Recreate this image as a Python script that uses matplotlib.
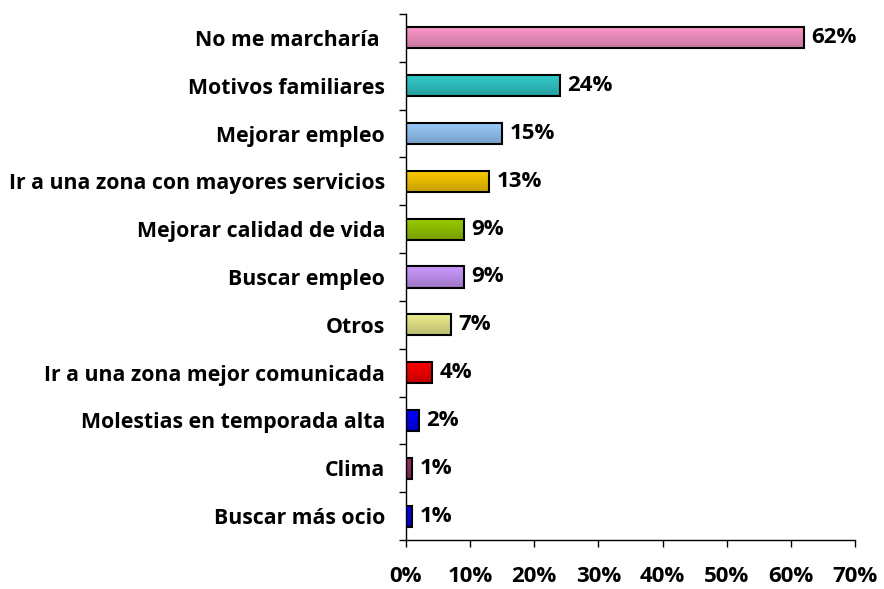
import matplotlib
matplotlib.use("Agg")
import matplotlib.pyplot as plt
import numpy as np
from matplotlib.colors import to_rgb

categories = ["No me marcharía ", "Motivos familiares", "Mejorar empleo",
              "Ir a una zona con mayores servicios", "Mejorar calidad de vida",
              "Buscar empleo", "Otros", "Ir a una zona mejor comunicada",
              "Molestias en temporada alta", "Clima", "Buscar más ocio"]
values = [62, 24, 15, 13, 9, 9, 7, 4, 2, 1, 1]
labels = ["62%", "24%", "15%", "13%", "9%", "9%", "7%", "4%", "2%", "1%", "1%"]
colors = ["#FF99CC", "#33CCCC", "#99CCFF", "#FFCC00", "#99CC00", "#CC99FF",
          "#F0F090", "#FF0000", "#0000FF", "#993366", "#0000FF"]
xticks = [0, 10, 20, 30, 40, 50, 60, 70]
xticklabels = ["0%", "10%", "20%", "30%", "40%", "50%", "60%", "70%"]

plt.rcParams['font.family'] = ['Open Sans', 'DejaVu Sans']
plt.rcParams['font.weight'] = 'bold'
FS = 15.3
FSN = 16

fig = plt.figure(figsize=(8.84, 5.89), dpi=100)
ax = fig.add_axes([406/884, 1-540/589, (855-406)/884, (540-14)/589])

n = len(categories)
ypos = np.arange(n)[::-1]
h = 0.44
for y, v, c in zip(ypos, values, colors):
    rgb = np.array(to_rgb(c))
    dark = rgb * 0.78
    grad = np.linspace(0, 1, 32)[:, None]
    img = rgb[None, None, :] * (1 - grad[..., None]) + dark[None, None, :] * grad[..., None]
    img = np.repeat(img, 2, axis=1)
    ax.imshow(img, extent=(0, v, y - h/2, y + h/2), aspect='auto',
              origin='upper', zorder=2, interpolation='bilinear')
    ax.barh(y, v, height=h, facecolor='none', edgecolor='black', linewidth=1.5, zorder=3)

for y, v, lab in zip(ypos, values, labels):
    ax.text(v + 1.2, y, lab, va='center', ha='left', fontsize=FSN, fontweight='bold')

ax.set_xlim(0, 70)
ax.set_ylim(-0.5, n - 0.5)
ax.set_xticks(xticks)
ax.set_xticklabels(xticklabels, fontsize=FSN, fontweight='bold')
ax.set_yticks(ypos)
ax.set_yticklabels(categories, fontsize=FS, fontweight='bold')
ax.tick_params(axis='y', length=0, pad=15)
ax.set_yticks(np.arange(n + 1) - 0.5, minor=True)
ax.tick_params(axis='y', which='minor', length=5, width=1, direction='out')
ax.tick_params(axis='x', length=5, width=1, direction='out', pad=14)
for s in ['top', 'right']:
    ax.spines[s].set_visible(False)
ax.spines['left'].set_linewidth(1)
ax.spines['bottom'].set_linewidth(1)

fig.savefig("out.png", dpi=100)
